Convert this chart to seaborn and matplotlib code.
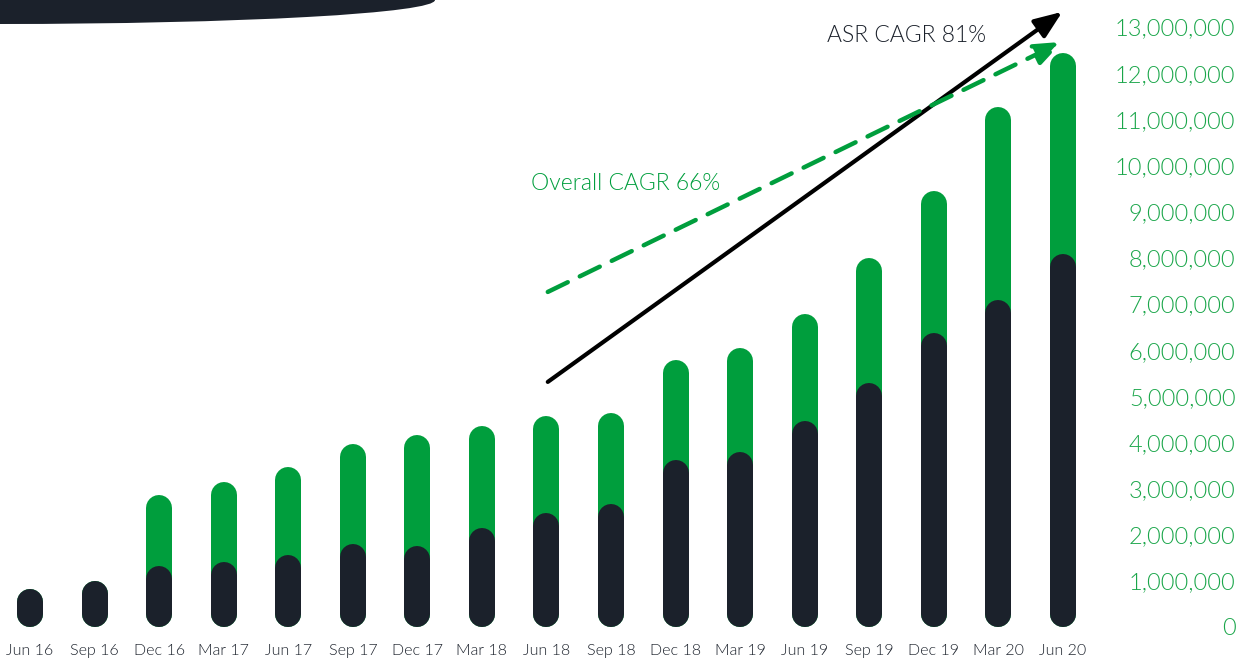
import seaborn as sns
import pandas as pd
import numpy as np
import matplotlib.pyplot as plt
from matplotlib.patches import Ellipse

# quarter labels and values
quarters = ["Jun 16", "Sep 16", "Dec 16", "Mar 17", "Jun 17", "Sep 17", "Dec 17", "Mar 18",
            "Jun 18", "Sep 18", "Dec 18", "Mar 19", "Jun 19", "Sep 19", "Dec 19", "Mar 20", "Jun 20"]
total_m = [0.82, 1.00, 2.86, 3.14, 3.47, 3.97, 4.16, 4.36, 4.57, 4.64, 5.79, 6.05, 6.78, 8.00, 9.45, 11.27, 12.44]
asr_m = [0.82, 1.00, 1.32, 1.41, 1.56, 1.80, 1.76, 2.15, 2.47, 2.67, 3.62, 3.79, 4.46, 5.29, 6.37, 7.09, 8.08]
ytick_vals = list(range(0, 14_000_000, 1_000_000))

GREEN = "#009e3d"
DARK = "#1b212b"
LABEL_GREEN = "#1aa64a"

df = pd.DataFrame({
    "quarter": quarters,
    "total": np.array(total_m) * 1e6,
    "asr": np.array(asr_m) * 1e6,
})

sns.set_theme(style="white")
plt.rcParams["font.family"] = ["Lato", "DejaVu Sans"]
plt.rcParams["font.weight"] = 300

fig = plt.figure(figsize=(12.51, 6.61), dpi=100)
ax = fig.add_axes([0, 0.03, 0.8755, 0.97])

sns.barplot(data=df, x="quarter", y="total", color=GREEN, saturation=1, width=0.4, ax=ax)
sns.barplot(data=df, x="quarter", y="asr", color=DARK, saturation=1, width=0.4, ax=ax)

ax.set_xlim(-0.465, 16.5)
ax.set_ylim(-0.308e6, 13.586e6)

# turn the flat bars into pill shapes (round-capped thick lines)
fig.canvas.draw()
ax_h_px = ax.get_window_extent().height
y0, y1 = ax.get_ylim()
r = 13 * (y1 - y0) / ax_h_px
lw_pt = 26 * 72 / fig.dpi
patches = list(ax.patches)
for p in patches:
    xc = p.get_x() + p.get_width() / 2
    h = p.get_height()
    c = p.get_facecolor()
    p.remove()
    ax.plot([xc, xc], [r, max(h - r, r + 1)], color=c, lw=lw_pt,
            solid_capstyle="round", zorder=2 if c[1] > 0.3 else 3)

for s in ax.spines.values():
    s.set_visible(False)

ax.yaxis.tick_right()
ax.set_yticks(ytick_vals)
ax.set_yticklabels([f"{v:,}" for v in ytick_vals], color=LABEL_GREEN, fontsize=17,
                   ha="right", fontweight=300)
ax.tick_params(axis="y", length=0, pad=101)
ax.tick_params(axis="x", length=0, pad=2, labelsize=11.5, labelcolor=DARK)
for t in ax.get_xticklabels():
    t.set_fontweight(300)
ax.set_xlabel("")
ax.set_ylabel("")
ax.grid(False)

# trend arrows
ax.annotate("", xy=(15.99, 13.33e6), xytext=(8.02, 5.31e6),
            arrowprops=dict(arrowstyle="-|>,head_length=1.4,head_width=0.55", color="black", lw=3,
                            shrinkA=0, shrinkB=0), zorder=5)
ax.annotate("", xy=(15.99, 12.68e6), xytext=(8.02, 7.26e6),
            arrowprops=dict(arrowstyle="-|>,head_length=1.4,head_width=0.55", color=GREEN, lw=3.2,
                            linestyle=(0, (5, 3)), shrinkA=0, shrinkB=0), zorder=5)
ax.text(13.57, 12.81e6, "ASR CAGR 81%", color=DARK, fontsize=16.5, ha="center", va="center",
        fontweight=300)
ax.text(9.23, 9.62e6, "Overall CAGR 66%", color=GREEN, fontsize=16.5, ha="center", va="center",
        fontweight=300)

# decorative dark swoosh in the top-left corner
fig.patches.append(Ellipse((0, 1), 870 / 1251, 48 / 661, transform=fig.transFigure,
                           facecolor=DARK, edgecolor="none", figure=fig))

fig.savefig("out.png", dpi=100)
